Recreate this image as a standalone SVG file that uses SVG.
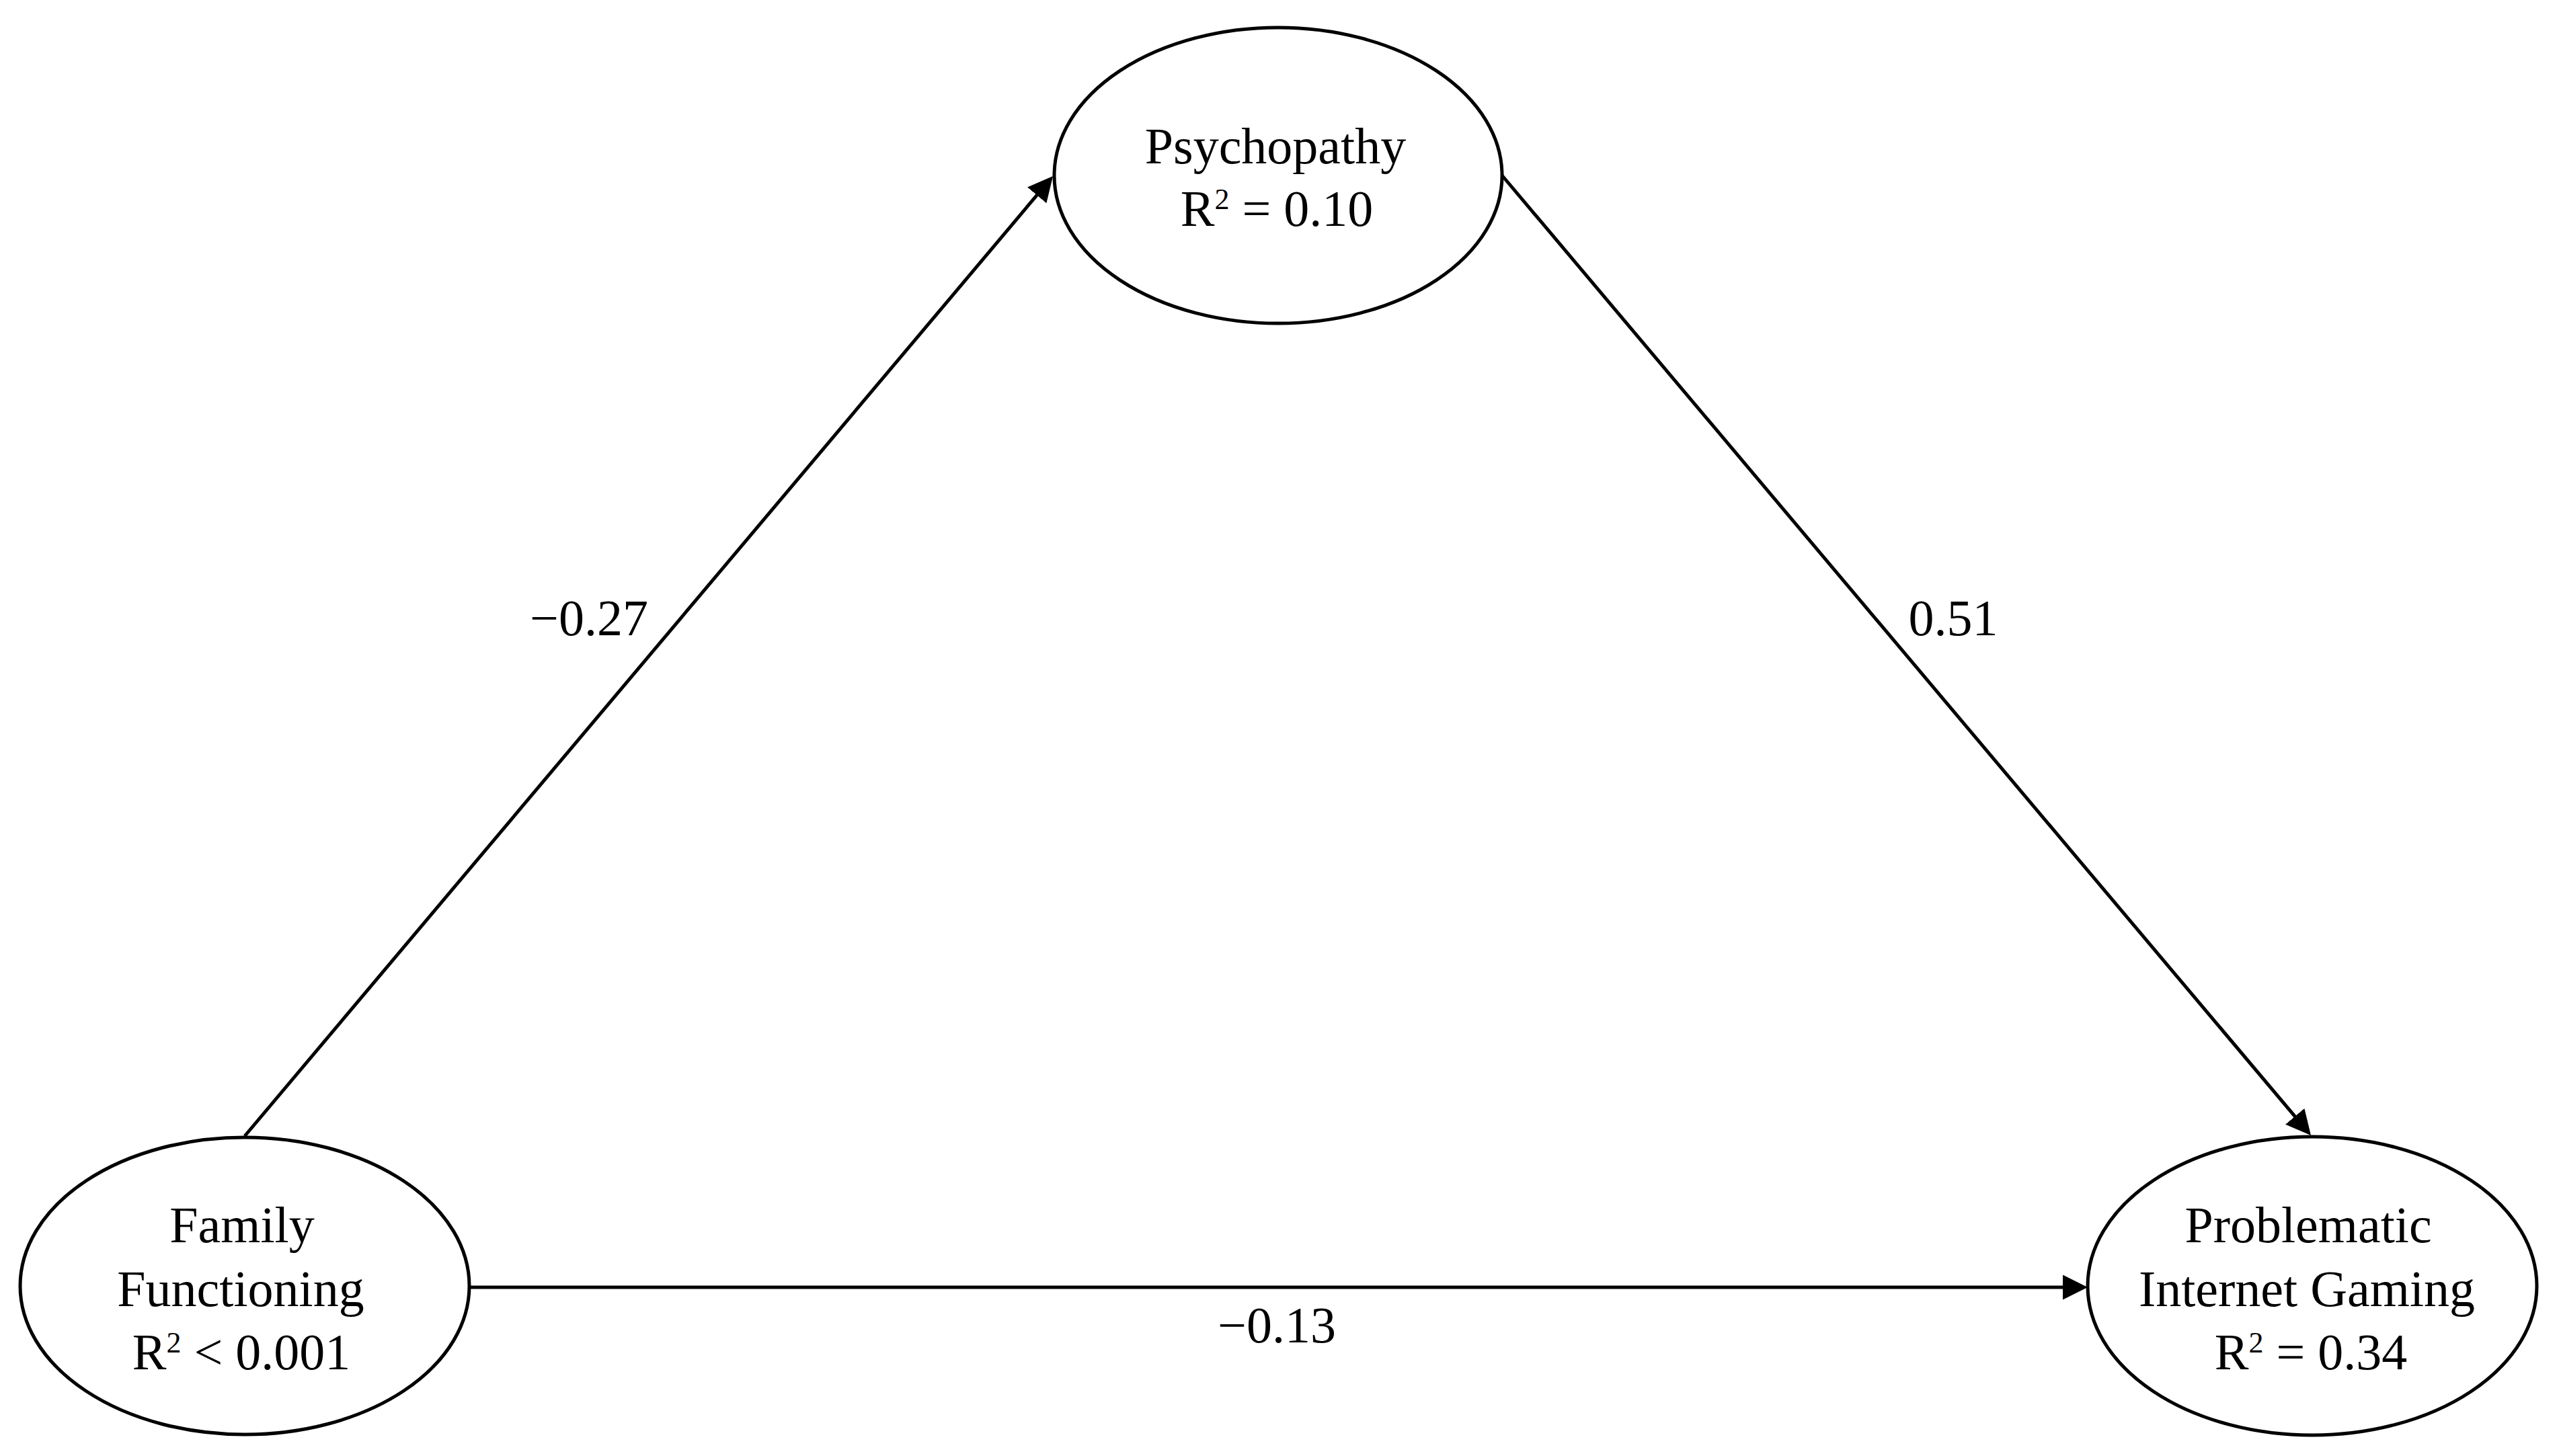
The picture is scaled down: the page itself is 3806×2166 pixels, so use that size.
<svg xmlns="http://www.w3.org/2000/svg" width="3806" height="2166" viewBox="0 0 3806 2166">
<style>
.node ellipse{fill:#fff;stroke:#000;stroke-width:5}
.node text,.lbl{font-family:"Liberation Serif","Times New Roman",serif;font-size:76px;fill:#000;text-anchor:middle}
.sup{font-size:44px}
.edge{stroke:#000;stroke-width:5;fill:none;marker-end:url(#arr)}
</style>
<defs>
<marker id="arr" markerUnits="userSpaceOnUse" viewBox="0 0 37 37" refX="27" refY="18.5" markerWidth="37" markerHeight="37" orient="auto">
<path d="M0,0 L37,18.5 L0,37 z" fill="#000"/>
</marker>
</defs>
<rect width="3806" height="2166" fill="#fff"/>
<g id="connectors">
<line class="edge" x1="364" y1="1690" x2="1559.6" y2="269.7"/>
<line class="edge" x1="2234" y1="261" x2="3430.6" y2="1681.4"/>
<line class="edge" x1="698" y1="1915" x2="3095" y2="1915"/>
<text class="lbl" x="876" y="945">−0.27</text>
<text class="lbl" x="2905" y="945">0.51</text>
<text class="lbl" x="1899" y="1997">−0.13</text>
</g>
<g id="psychopathy" class="node">
<ellipse cx="1901" cy="261" rx="333" ry="220"/>
<text x="1897" y="243">Psychopathy</text>
<text x="1899" y="336">R<tspan class="sup" dy="-25">2</tspan><tspan dy="25"> = 0.10</tspan></text>
</g>
<g id="family" class="node">
<ellipse cx="364" cy="1913" rx="334" ry="221"/>
<text x="360" y="1848">Family</text>
<text x="358" y="1943">Functioning</text>
<text x="359" y="2037">R<tspan class="sup" dy="-25">2</tspan><tspan dy="25"> &lt; 0.001</tspan></text>
</g>
<g id="pig" class="node">
<ellipse cx="3439" cy="1913" rx="334" ry="222"/>
<text x="3433" y="1848">Problematic</text>
<text x="3431" y="1943">Internet Gaming</text>
<text x="3437" y="2037">R<tspan class="sup" dy="-25">2</tspan><tspan dy="25"> = 0.34</tspan></text>
</g>
</svg>
